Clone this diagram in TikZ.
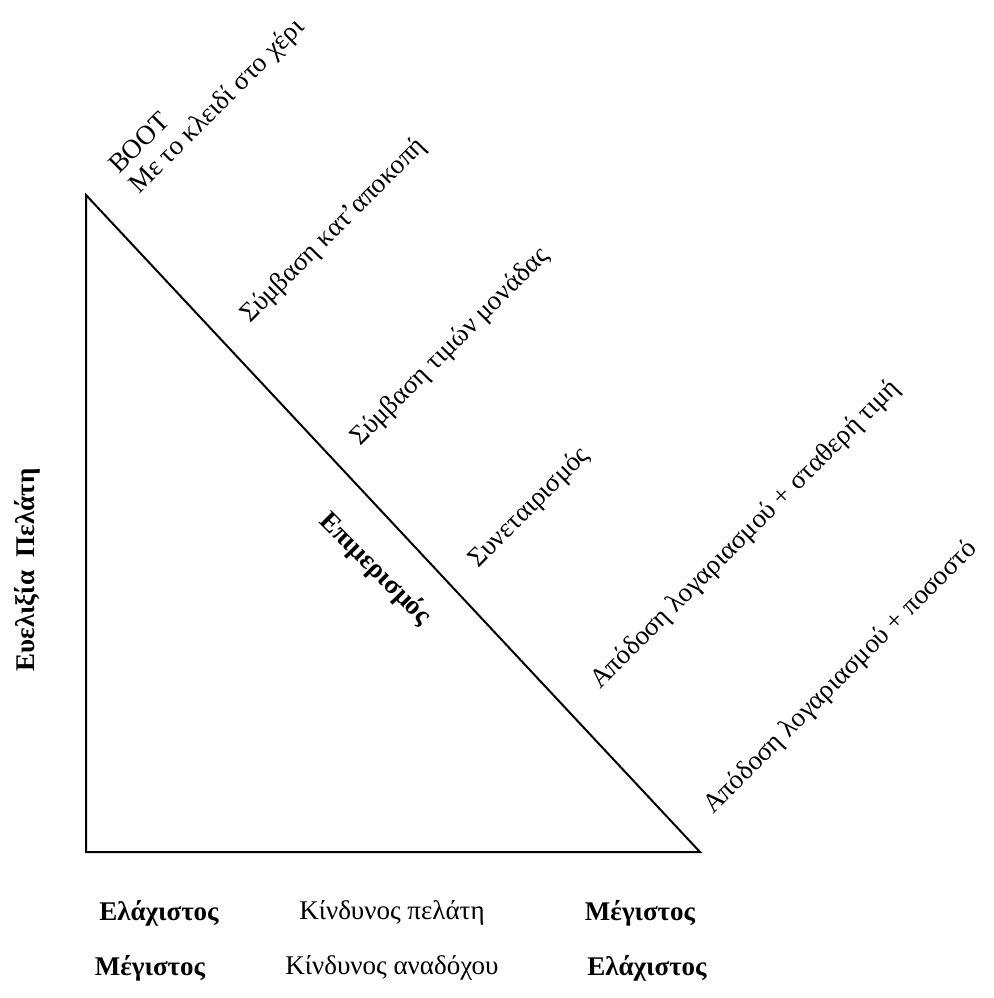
\documentclass[tikz,border=0pt]{standalone}
\usepackage{fontspec}
\setmainfont{Liberation Serif}
\begin{document}
\begin{tikzpicture}[x=1pt,y=-1pt,
  lbl/.style={font=\fontsize{27}{31}\selectfont, inner sep=0pt},
  diag/.style={lbl, rotate=45, anchor=base west},
  boldlbl/.style={lbl, font=\fontsize{27}{31}\selectfont\bfseries},
  edge/.style={line width=2pt, black}]
  \useasboundingbox (0,0) rectangle (993,998);
  % triangle corners
  \coordinate (top) at (86,195);
  \coordinate (corner) at (86,852);
  \coordinate (right) at (700,852);
  \draw[edge, line join=miter] (top) -- (corner) -- (right) -- cycle;
  % contract types along the hypotenuse
  \node[diag] (boot) at (119,175) {BOOT};
  \node[diag] (turnkey) at (139,195) {Με το κλειδί στο χέρι};
  \node[diag] (lump) at (250,324) {Σύμβαση κατ’αποκοπή};
  \node[diag] (unit) at (360,447) {Σύμβαση τιμών μονάδας};
  \node[diag] (coop) at (478,569) {Συνεταιρισμός};
  \node[diag] (costfix) at (600,690) {Απόδοση λογαριασμού + σταθερή τιμή};
  \node[diag] (costpct) at (713,815) {Απόδοση λογαριασμού + ποσοστό};
  % risk sharing label
  \node[boldlbl, rotate=-45] (share) at (375,569) {Επιμερισμός};
  % vertical axis
  \node[boldlbl, rotate=90] (flex) at (27,570) {Ευελιξία~~Πελάτη};
  % horizontal axis
  \node[boldlbl] (minc) at (159,913) {Ελάχιστος};
  \node[lbl] (riskc) at (392,913) {Κίνδυνος πελάτη};
  \node[boldlbl] (maxc) at (640,913) {Μέγιστος};
  \node[boldlbl] (maxk) at (150,968) {Μέγιστος};
  \node[lbl] (riskk) at (392,968) {Κίνδυνος αναδόχου};
  \node[boldlbl] (mink) at (647,968) {Ελάχιστος};
\end{tikzpicture}
\end{document}
